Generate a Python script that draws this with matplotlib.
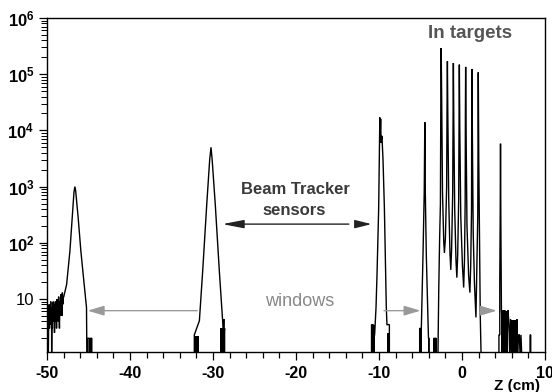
import matplotlib
matplotlib.use('Agg')
import matplotlib.pyplot as plt
import numpy as np

plt.rcParams['font.family'] = ['Liberation Sans', 'DejaVu Sans']
plt.rcParams['mathtext.fontset'] = 'custom'
plt.rcParams['mathtext.rm'] = 'Liberation Sans:bold'
plt.rcParams['mathtext.bf'] = 'Liberation Sans:bold'
plt.rcParams['mathtext.it'] = 'Liberation Sans:bold'

# --- data (z in cm, counts per bin) ---
# noise at the left edge + first Beam Tracker sensor
left_z = [-50.0, -49.95, -49.9, -49.85, -49.84, -49.8, -49.75, -49.7, -49.65, -49.6,
          -49.55, -49.5, -49.45, -49.44, -49.4, -49.35, -49.3, -49.25, -49.2, -49.15,
          -49.1, -49.05, -49.0, -48.95, -48.9, -48.85, -48.8, -48.75, -48.7, -48.65,
          -48.6, -48.55, -48.5, -48.45, -48.4, -48.35, -48.3, -48.25, -48.2, -48.15,
          -48.1, -48.05, -48.0, -47.64, -47.24, -46.96, -46.75, -46.64, -46.55, -46.24,
          -45.92, -45.52, -45.24, -45.2]
left_n = [4, 7, 3, 6, 1, 4, 8, 3, 6, 4,
          9, 3.5, 6, 1, 7, 3, 6, 9, 4, 8,
          2.5, 5, 9, 4, 7, 3, 10, 5, 8, 4,
          11, 6, 3, 9, 5, 12, 7, 10, 5, 13,
          8, 11, 10.7, 18, 71, 275, 800, 1000, 850, 275,
          71, 18, 7, 1]

# window bins after the first sensor
win1_z = [-45.1, -45.1, -44.9, -44.9, -44.8, -44.8, -44.6, -44.6]
win1_n = [1, 2, 2, 1, 1, 2, 2, 1]

# second Beam Tracker sensor
bt2_z = [-32.25, -32.25, -31.64, -31.24, -30.76, -30.4, -30.24, -30.1, -29.72, -29.24,
         -28.84, -28.75, -28.7, -28.65, -28.6, -28.6]
bt2_n = [1, 2.3, 4.1, 32, 465, 3000, 5000, 3000, 465, 32,
         4.1, 3.0, 4.4, 2.5, 3.0, 1]

# third Beam Tracker sensor
bt3_z = [-10.9, -10.9, -10.7, -10.7, -10.52, -10.36, -10.24, -10.04, -9.95, -9.9,
         -9.85, -9.8, -9.75, -9.65, -9.52, -9.35, -9.2, -9.12, -9.04, -8.75, -8.75]
bt3_n = [1, 3.5, 3.5, 1.5, 2.4, 7, 27, 410, 5000, 17000,
         9000, 16000, 6000, 8000, 3150, 410, 27, 7, 3.5, 3.5, 1]

# window at -4.5
win2_z = [-5.1, -5.1, -5.0, -4.95, -4.9, -4.84, -4.7, -4.55, -4.48, -4.42,
          -4.3, -4.1, -4.04, -3.95, -3.95]
win2_n = [1, 3, 3, 1, 3, 7, 60, 800, 14000, 800,
          60, 4, 2, 2, 1]

# targets
tgt_z = [-3.4, -3.4, -3.3, -3.3, -3.2, -3.2, -3.1, -3.1,
         -2.9, -2.8, -2.7, -2.6, -2.55, -2.51, -2.45, -2.35, -2.2, -2.12,
         -2.0, -1.85, -1.8, -1.76, -1.71, -1.6, -1.45, -1.35,
         -1.25, -1.12, -1.07, -1.04, -0.99, -0.88, -0.72, -0.62,
         -0.52, -0.4, -0.35, -0.32, -0.27, -0.15, 0.05, 0.2,
         0.3, 0.38, 0.41, 0.44, 0.49, 0.6, 0.8, 0.95,
         1.05, 1.15, 1.17, 1.2, 1.25, 1.35, 1.5, 1.68,
         1.78, 1.9, 1.93, 1.96, 2.02, 2.2, 2.3]
tgt_n = [1, 2, 2, 1, 1, 2, 2, 1,
         1, 15, 110, 500, 40000, 292000, 40000, 800, 107, 66,
         120, 1000, 30000, 170000, 20000, 600, 66, 33,
         80, 800, 25000, 158000, 15000, 400, 47, 24,
         60, 600, 20000, 148000, 12000, 300, 40, 16,
         50, 500, 20000, 135000, 10000, 200, 26, 13,
         40, 400, 15000, 124000, 8000, 150, 19, 4.7,
         30, 300, 12000, 108000, 3000, 5, 1]

# window at +4.6 and the tail behind it
win3_z = [4.45, 4.45, 4.55, 4.55, 4.6, 4.64, 4.68, 4.75, 4.85, 4.95,
          5.05, 5.15, 5.25, 5.35, 5.45, 5.55, 5.65, 5.75, 5.85, 5.95,
          6.05, 6.15, 6.25, 6.35, 6.55, 6.6, 6.7, 6.8, 6.9, 7.0,
          7.1, 7.2, 8.2, 8.2, 8.28, 8.28, 10.0]
win3_n = [1, 2.3, 2.3, 20, 240, 5800, 240, 6.3, 3.6, 6.3,
          4.4, 6.3, 3.6, 5.2, 2.3, 6.3, 3.6, 1, 4.4, 1,
          3.6, 1, 3.6, 1, 1, 4.4, 1, 2.3, 2.3, 1,
          2.3, 1, 1, 2.3, 2.3, 1, 1]

# densely filled low-count bin groups (left edge, width, height)
block_z = [-44.95, -32.2, -29.1, -10.85, -9.05, -4.1, 4.72, 5.95]
block_w = [0.35, 0.5, 0.45, 0.4, 0.3, 0.15, 0.8, 0.55]
block_n = [2, 2.2, 3, 3.5, 2.5, 2, 6.0, 4.2]

y_ticks = [10, 1e2, 1e3, 1e4, 1e5, 1e6]
y_labels = ['10', r'$10^{2}$', r'$10^{3}$', r'$10^{4}$', r'$10^{5}$', r'$10^{6}$']
x_ticks = [-50, -40, -30, -20, -10, 0, 10]
x_labels = ['-50', '-40', '-30', '-20', '-10', '0', '10']

z_all = left_z + win1_z + bt2_z + bt3_z + win2_z + tgt_z + win3_z
n_all = left_n + win1_n + bt2_n + bt3_n + win2_n + tgt_n + win3_n

fig = plt.figure(figsize=(5.52, 3.92), dpi=100)
ax = fig.add_axes([47 / 552, 1 - 352 / 392, 498 / 552, 334 / 392])

ax.plot(z_all, n_all, color='black', lw=1.0, solid_joinstyle='miter')
ax.bar(block_z, [n - 1 for n in block_n], width=block_w, bottom=1, align='edge',
       color='black', linewidth=0)

ax.set_yscale('log')
ax.set_xlim(-50, 10)
ax.set_ylim(1.14, 1e6)

ax.set_yticks(y_ticks)
ax.set_yticklabels(y_labels)
ax.set_xticks(x_ticks)
ax.set_xticklabels(x_labels)
ax.set_xticks(np.arange(-48, 10, 2), minor=True)
for lab in ax.get_xticklabels():
    lab.set_fontweight('bold')
ax.tick_params(axis='x', which='major', length=6, width=0.9, labelsize=11.5, pad=4)
ax.tick_params(axis='x', which='minor', length=4, width=0.9)
ax.tick_params(axis='y', which='major', length=6, width=0.9, labelsize=12, pad=3)
ax.tick_params(axis='y', which='minor', length=4, width=0.7)
for s in ax.spines.values():
    s.set_linewidth(1.0)

# labels and annotations
ax.text(0.849, 0.955, 'In targets', transform=ax.transAxes, ha='center', va='center',
        fontsize=13.5, fontweight='bold', color='#555555')
ax.text(0.499, 0.488, 'Beam Tracker', transform=ax.transAxes, ha='center', va='center',
        fontsize=12, fontweight='bold', color='#3a3a3a')
ax.text(0.497, 0.425, 'sensors', transform=ax.transAxes, ha='center', va='center',
        fontsize=12, fontweight='bold', color='#3a3a3a')
ax.text(0.508, 0.150, 'windows', transform=ax.transAxes, ha='center', va='center',
        fontsize=13, color='#888888')

# black arrows for the sensors
ax.annotate('', xy=(-28.88, 215), xytext=(-13.64, 215),
            arrowprops=dict(arrowstyle='-|>,head_length=1.3,head_width=0.25',
                            color='#222222', lw=1.0, mutation_scale=10,
                            shrinkA=0, shrinkB=0))
ax.annotate('', xy=(-10.9, 215), xytext=(-12.2, 215),
            arrowprops=dict(arrowstyle='-|>,head_length=1.0,head_width=0.25',
                            color='#222222', lw=1.0, mutation_scale=10,
                            shrinkA=0, shrinkB=0))

# gray arrows for the windows
gray_arrows = [(-31.9, -45.1), (-9.4, -5.0), (2.8, 4.2)]
for z0, z1 in gray_arrows:
    ax.annotate('', xy=(z1, 6.2), xytext=(z0, 6.2),
                arrowprops=dict(arrowstyle='-|>,head_length=1.0,head_width=0.3',
                                color='#999999', lw=1.0, mutation_scale=10,
                                shrinkA=0, shrinkB=0))

fig.text(517 / 552, 1 - 386 / 392, 'Z (cm)', ha='center', va='center',
         fontsize=11, fontweight='bold')

fig.savefig('out.png', dpi=100, facecolor='white')
